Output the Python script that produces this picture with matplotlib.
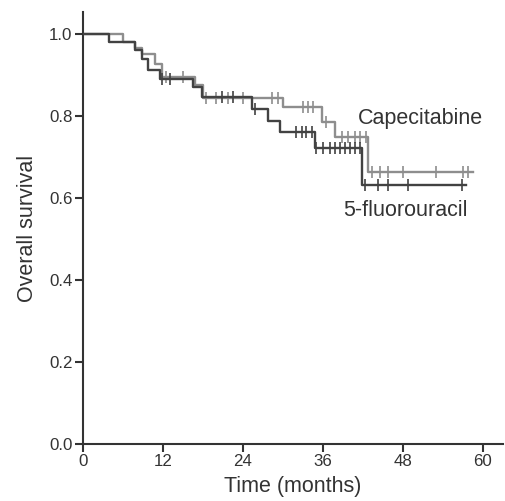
import numpy as np
import matplotlib
matplotlib.use('Agg')
import matplotlib.pyplot as plt

plt.rcParams['font.family'] = ['Liberation Sans', 'DejaVu Sans']

# Kaplan-Meier steps (time in months, survival after the step)
cape_t = [0, 6.0, 7.8, 8.8, 10.8, 11.8, 16.8, 18.0, 30.0, 35.8, 37.8, 42.8, 58.5]
cape_s = [1.0, 0.982, 0.967, 0.952, 0.928, 0.896, 0.876, 0.845, 0.822, 0.786, 0.750, 0.663, 0.663]
cape_cens = [12.4, 15.0, 18.5, 20.0, 21.8, 24.0, 28.3, 29.3, 33.0, 33.8, 34.5, 36.5,
             38.8, 39.8, 40.8, 41.5, 42.5, 43.3, 44.5, 45.8, 48.0, 53.0, 57.0, 57.8]

fu_t = [0, 3.9, 7.8, 8.8, 9.8, 11.5, 16.5, 17.8, 25.3, 27.8, 29.6, 34.8, 41.8, 57.5]
fu_s = [1.0, 0.982, 0.961, 0.940, 0.912, 0.892, 0.872, 0.848, 0.818, 0.788, 0.762, 0.723, 0.632, 0.632]
fu_cens = [11.9, 13.1, 20.8, 22.5, 25.8, 32.0, 32.8, 33.5, 34.3, 35.0, 36.0, 37.0, 37.8,
           38.5, 39.3, 40.0, 40.8, 41.5, 42.3, 44.3, 45.8, 48.8, 56.8]

xticks = [0, 12, 24, 36, 48, 60]
yticks = [0.0, 0.2, 0.4, 0.6, 0.8, 1.0]

LIGHT = '#8e8e8e'
DARK = '#424242'
TXT = '#333333'


def surv_at(t, s, tc):
    idx = np.searchsorted(t, tc, side='right') - 1
    return np.array(s)[idx]


fig = plt.figure(figsize=(5.05, 5.01), dpi=100)
ax = fig.add_axes([0.164, 0.1138, 0.832, 0.862])

ax.step(cape_t, cape_s, where='post', color=LIGHT, lw=1.7, zorder=2)
ax.plot(cape_cens, surv_at(cape_t, cape_s, cape_cens), ls='none', marker='|',
        ms=8, mew=1.2, color=LIGHT, zorder=2)
ax.step(fu_t, fu_s, where='post', color=DARK, lw=1.7, zorder=3)
ax.plot(fu_cens, surv_at(fu_t, fu_s, fu_cens), ls='none', marker='|',
        ms=8, mew=1.2, color=DARK, zorder=3)

ax.text(41.2, 0.795, 'Capecitabine', fontsize=15.5, color=TXT, va='center', ha='left')
ax.text(39.0, 0.571, '5-fluorouracil', fontsize=15.5, color=TXT, va='center', ha='left')

ax.set_xlim(0, 63)
ax.set_ylim(0, 1.054)
ax.set_xticks(xticks)
ax.set_yticks(yticks)
ax.set_yticklabels(['%.1f' % v for v in yticks])

for sp in ['top', 'right']:
    ax.spines[sp].set_visible(False)
for sp in ['left', 'bottom']:
    ax.spines[sp].set_linewidth(1.5)
    ax.spines[sp].set_color(TXT)

ax.tick_params(direction='out', length=6, width=1.5, color=TXT, labelcolor=TXT,
               labelsize=12.2, pad=1.5)

ax.set_xlabel('Time (months)', fontsize=15.5, color=TXT, labelpad=5)
ax.set_ylabel('Overall survival', fontsize=15.5, color=TXT, labelpad=8)

fig.savefig('out.png', dpi=100)
